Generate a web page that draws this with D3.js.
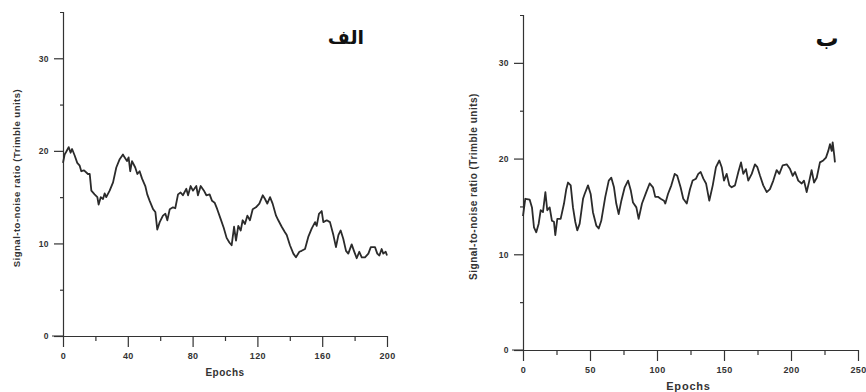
<!DOCTYPE html>
<html>
<head>
<meta charset="utf-8">
<script src="https://cdn.jsdelivr.net/npm/d3@7"></script>
<style>
  body { margin: 0; background: #fff; }
  .tick text { font-family: Arial, "Liberation Sans", sans-serif; font-weight: bold; fill: #333; letter-spacing: 0.4px; }
</style>
</head>
<body>
<div id="chart"></div>
<script>
// panel "alef" (left)
var epochsA = [0,1,2,3.5,4.7,5.6,7.2,8.8,10.3,11.3,13,15.4,16.5,17.5,19.5,21.2,22,23.3,24.7,25.7,26.7,28.8,30.9,32.9,35,37,38,39.5,40.5,41.5,42.6,44.6,45.9,47.3,48.8,50.8,52,53.5,55.6,57,58.2,59.7,61.7,63.2,64.4,65.9,67.9,69.3,71,72.6,74,76.1,77.2,78.8,80.2,82.3,83.3,85,87,88.5,90.5,92,93.6,95.2,97.4,99.2,101,102.7,104.1,105.6,106.8,108.2,109.7,110.9,112.3,113.8,115.4,117.1,119.1,121.2,123.3,124.7,126.1,127.8,129.4,131.5,132.9,135,137,138.1,140.1,142.2,143.8,145.9,147.3,149.4,151.4,153.5,155.6,156.6,158,159.7,160.7,162.8,164.8,166.9,168.5,170,171.4,173,174.7,176.1,178.2,179.6,181.3,182.9,184.4,186.4,188.5,190,192.6,194,195.3,196.7,197.7,199.2,200];
var snrA = [18.7,19.6,19.9,20.4,19.8,20.2,19.5,18.7,18.4,17.8,17.9,17.5,17.5,15.7,15.3,15,14.2,15,14.8,15.4,15,15.7,16.6,18.2,19.1,19.6,19.3,18.9,19.3,17.8,18.9,18.2,17.5,17.8,17,16.2,15.3,14.6,13.7,13.4,11.5,12.3,13,13.2,12.5,13.7,13.9,13.8,15.3,15.5,15.2,15.9,15.2,16.2,15.7,16.2,15.2,16.2,15.7,15.2,15.3,14.6,14.4,13.7,12.6,11.7,10.6,10.1,9.8,11.8,10.3,11.9,11.4,12.5,12.1,13,12.5,13.7,13.9,14.3,15.2,14.8,14.3,15,14.3,13,12.5,11.8,11.2,10.9,9.8,8.9,8.5,9.1,9.2,9.4,10.7,11.6,12.3,11.9,13.2,13.5,12.3,12.5,12.3,10.9,9.6,10.9,11.4,10.5,9.2,8.9,9.9,9.2,8.4,9.1,8.5,8.5,8.9,9.6,9.6,8.9,8.7,9.4,8.9,9.1,8.7];

// panel "be" (right)
var epochsB = [0,1.7,5,6.7,8.2,9.9,11.7,13.2,14.9,16.7,18.1,19.9,21.6,23.1,24.1,25.6,28.1,30.6,32.3,33.6,35.6,37.3,39,40.5,42.3,44.8,46,48.5,50.5,52.2,54.7,56.5,58.4,61.4,64,65.9,67.9,69.6,71.4,73.4,75.9,78.4,80.4,82.1,84.6,86.3,88.8,92,94.5,97,98.7,100.7,102.7,105.2,106.2,108.2,110.7,113.2,115.1,117.6,119.6,122.2,124.6,126.6,129.1,130.8,132.6,134.6,136.6,139,141.6,144,146.5,148.3,150,152,154,155.7,158.2,160.7,162.7,164.4,166.4,168.1,170.7,173.1,174.9,176.9,179.3,181.9,184.3,186.8,189.3,191.3,193.8,196.8,199.3,201.3,203,205.4,208,209.7,211.7,213.7,215.4,217.2,219.2,221.6,224.1,226.1,227.8,229.1,230.4,231.1,232.3,232.8];
var snrB = [14,15.8,15.7,14.9,12.8,12.3,13.2,14.6,14.4,16.5,14.6,14.9,13.5,13.4,12,13.7,13.7,15.3,16.8,17.5,17.2,14.9,13.4,12.5,13.2,15.8,16.3,17.2,16.3,14.4,13,12.7,13.5,16,17.7,18,17,15.3,14.2,15.6,17,17.7,16.7,15.4,14.9,13.7,15.3,16.5,17.4,17,16,16,15.8,15.6,15.3,16.3,17.2,18.4,18.2,17,15.8,15.3,16.8,17.7,17.9,18.4,18.6,17.9,17.4,15.6,17.2,19.1,19.8,19.1,17.7,18.4,17.2,17,17.2,18.6,19.6,18.4,18.9,17.7,18.4,19.4,19.1,18.2,17.2,16.5,16.8,17.7,18.8,18.4,19.3,19.4,18.9,18.2,18.6,17.7,17.4,17.7,16.5,17.7,18.8,17.5,18,19.6,19.8,20.1,20.8,21.5,20.8,21.7,20.3,19.6];

var yMajor = [0,10,20,30];
var yMinor = [5,15,25];
var xMajorA = [0,40,80,120,160,200];
var xMinorA = [20,60,100,140,180];
var xMajorB = [0,50,100,150,200,250];
var xMinorB = [25,75,125,175,225];

var yLabel = 'Signal-to-noise ratio (Trimble units)';
var xLabel = 'Epochs';

var svg = d3.select('#chart')
  .append('svg')
  .attr('width', 866)
  .attr('height', 392);

function drawPanel(p) {
  var x = d3.scaleLinear().domain([0, p.xMax]).range([p.left, p.right]);
  var y = d3.scaleLinear().domain([0, 35]).range([p.bottom, p.top]);

  var g = svg.append('g');

  // y axis, major + minor ticks
  var ya = g.append('g')
    .attr('transform', 'translate(' + p.left + ',0)')
    .call(d3.axisLeft(y).tickValues(yMajor).tickSize(9).tickSizeOuter(3).tickPadding(5));
  ya.selectAll('text').style('font-size', '8.5px');
  g.append('g')
    .attr('transform', 'translate(' + p.left + ',0)')
    .call(d3.axisLeft(y).tickValues(yMinor).tickSize(3).tickSizeOuter(0).tickFormat(''))
    .select('.domain').remove();

  // x axis
  var xa = g.append('g')
    .attr('transform', 'translate(0,' + p.bottom + ')')
    .call(d3.axisBottom(x).tickValues(p.xMajor).tickSize(11).tickSizeOuter(0).tickPadding(6));
  xa.selectAll('text').style('font-size', '9px');
  g.append('g')
    .attr('transform', 'translate(0,' + p.bottom + ')')
    .call(d3.axisBottom(x).tickValues(p.xMinor).tickSize(5).tickSizeOuter(0).tickFormat(''))
    .select('.domain').remove();

  // little stub of the x axis left of the origin
  g.append('line')
    .attr('x1', p.left - 11).attr('x2', p.left)
    .attr('y1', p.bottom).attr('y2', p.bottom)
    .attr('stroke', '#333');

  g.selectAll('.domain, .tick line').attr('stroke', '#333').attr('stroke-width', 1.2);

  // series
  var line = d3.line()
    .x(function(d) { return x(d[0]); })
    .y(function(d) { return y(d[1]); });
  g.append('path')
    .datum(d3.zip(p.xs, p.ys))
    .attr('d', line)
    .attr('fill', 'none')
    .attr('stroke', '#2b2b2b')
    .attr('stroke-width', 1.8)
    .attr('stroke-linejoin', 'round');

  g.append('text')
    .attr('x', (p.left + p.right) / 2 + (p.xLabelDx || 0))
    .attr('y', p.bottom + p.xLabelDy)
    .attr('text-anchor', 'middle')
    .style('font-family', 'Arial, "Liberation Sans", sans-serif')
    .style('font-weight', 'bold')
    .style('font-size', p.xLabelSize)
    .style('letter-spacing', p.xLabelSpacing)
    .style('fill', '#333')
    .text(xLabel);

  g.append('text')
    .attr('transform', 'translate(' + p.yLabelX + ',' + ((p.top + p.bottom) / 2 + 4) + ') rotate(-90)')
    .attr('text-anchor', 'middle')
    .style('font-family', 'Arial, "Liberation Sans", sans-serif')
    .style('font-weight', 'bold')
    .style('font-size', p.yLabelSize)
    .style('letter-spacing', '0.5px')
    .style('fill', '#333')
    .text(yLabel);

  g.append('text')
    .attr('x', p.titleX)
    .attr('y', p.titleY)
    .attr('text-anchor', 'middle')
    .style('font-family', '"DejaVu Sans", sans-serif')
    .style('font-weight', 'bold')
    .style('font-size', p.titleSize)
    .style('fill', '#111')
    .text(p.title);
}

drawPanel({
  xs: epochsA, ys: snrA, xMax: 200, xMajor: xMajorA, xMinor: xMinorA,
  left: 63, right: 387, top: 12, bottom: 336,
  xLabelDy: 40, xLabelSize: '10px', xLabelSpacing: '0.5px', yLabelX: 20, yLabelSize: '9.5px',
  title: 'الف', titleX: 346, titleY: 44, titleSize: '19px'
});

drawPanel({
  xs: epochsB, ys: snrB, xMax: 250, xMajor: xMajorB, xMinor: xMinorB,
  left: 523, right: 858, top: 15, bottom: 350,
  xLabelDy: 40, xLabelSize: '11px', xLabelSpacing: '0.8px', xLabelDx: -2, yLabelX: 477, yLabelSize: '10px',
  title: 'ب', titleX: 827, titleY: 46, titleSize: '23px'
});
</script>
</body>
</html>
